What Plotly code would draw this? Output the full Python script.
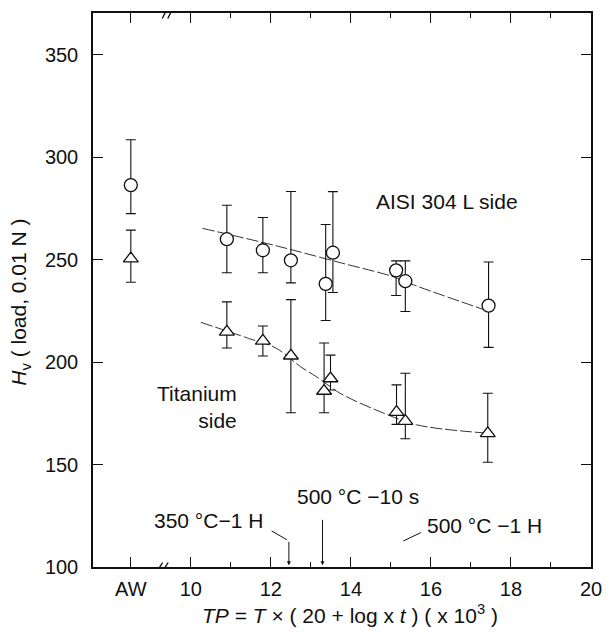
import numpy as np
import plotly.graph_objects as go

# Tempering parameter (x 10^3); AW (as-welded) is placed left of the axis break
AW_POS = 8.5

# AISI 304L side: mean hardness and error-bar limits
tp_304 = [AW_POS, 10.9, 11.8, 12.5, 13.37, 13.55, 15.13, 15.36, 17.44]
hv_304 = [286.4, 260.0, 254.6, 249.7, 238.2, 253.4, 244.8, 239.5, 227.6]
hi_304 = [308.5, 276.6, 270.6, 283.3, 267.2, 283.2, 249.4, 249.4, 248.9]
lo_304 = [272.5, 243.6, 243.6, 238.7, 220.3, 234.0, 232.5, 224.7, 207.2]

# Titanium side
tp_ti = [AW_POS, 10.9, 11.8, 12.5, 13.33, 13.49, 15.14, 15.36, 17.42]
hv_ti = [250.5, 214.8, 210.4, 203.1, 185.9, 192.0, 175.6, 171.2, 165.2]
hi_ti = [264.4, 229.4, 217.6, 230.5, 209.3, 203.4, 188.9, 194.6, 184.8]
lo_ti = [239.0, 206.9, 203.0, 175.3, 175.3, 186.4, 169.6, 162.6, 151.1]

# Hand-drawn trend curves
curve_304_x = [10.29, 12.13, 13.76, 15.02, 15.55, 17.34]
curve_304_y = [265.3, 256.8, 248.4, 241.9, 237.8, 225.5]
curve_ti_x = [10.25, 11.47, 12.13, 12.74, 13.19, 13.72, 14.82, 15.64, 17.30]
curve_ti_y = [219.4, 211.4, 206.8, 197.8, 192.2, 184.9, 175.1, 169.4, 165.5]

x_tickvals = [AW_POS, 10, 12, 14, 16, 18, 20]
x_ticktext = ["AW", "10", "12", "14", "16", "18", "20"]
x_minor = [11, 13, 15, 17, 19]
y_tickvals = [100, 150, 200, 250, 300, 350]

FONT = "Liberation Sans, Arial, Helvetica, sans-serif"
INK = "#111111"
TXT = 21

fig = go.Figure()

for cx, cy in [(curve_304_x, curve_304_y), (curve_ti_x, curve_ti_y)]:
    fig.add_trace(go.Scatter(
        x=cx, y=cy, mode="lines",
        line=dict(color="#333333", width=1, shape="spline", dash="12px,3px"),
        hoverinfo="skip", showlegend=False))


def hardness_trace(x, y, hi, lo, symbol, size):
    y = np.array(y)
    return go.Scatter(
        x=x, y=y, mode="markers", showlegend=False,
        marker=dict(symbol=symbol, size=size, color="white",
                    line=dict(color=INK, width=1.3)),
        error_y=dict(type="data", symmetric=False,
                     array=np.array(hi) - y, arrayminus=y - np.array(lo),
                     color=INK, thickness=1.1, width=5))


fig.add_trace(hardness_trace(tp_304, hv_304, hi_304, lo_304, "circle", 13))
fig.add_trace(hardness_trace(tp_ti, hv_ti, hi_ti, lo_ti, "triangle-up", 13))

# Axis break marks on the bottom and top frame lines
shapes = []
for anchor_x, anchor_y, half in [(9.30, 100, 4.5), (9.43, 370.4, 5.5)]:
    shapes.append(dict(type="rect", xref="x", yref="y", xsizemode="pixel", ysizemode="pixel",
                       xanchor=anchor_x, yanchor=anchor_y, x0=-4, x1=4, y0=-2, y1=2,
                       fillcolor="white", line=dict(width=0), layer="above"))
    for off in (-3, 2.5):
        shapes.append(dict(type="line", xref="x", yref="y", xsizemode="pixel", ysizemode="pixel",
                           xanchor=anchor_x, yanchor=anchor_y,
                           x0=off - 2.8, y0=-half, x1=off + 2.8, y1=half,
                           line=dict(color=INK, width=1.4), layer="above"))

# Leader lines for the heat-treatment labels
shapes.append(dict(type="line", xref="x", yref="y", x0=12.02, y0=117.6, x1=12.40, y1=113.3,
                   line=dict(color=INK, width=1)))
shapes.append(dict(type="line", xref="x", yref="y", x0=15.31, y0=112.7, x1=15.75, y1=116.8,
                   line=dict(color=INK, width=1)))

annotations = [
    dict(x=12.45, y=100.8, ax=0, ay=-25, xref="x", yref="y",
         text="", showarrow=True, arrowhead=2, arrowsize=0.8, arrowwidth=1, arrowcolor=INK),
    dict(x=13.29, y=100.8, ax=0, ay=-47, xref="x", yref="y",
         text="", showarrow=True, arrowhead=2, arrowsize=0.8, arrowwidth=1, arrowcolor=INK),
    dict(x=10.45, y=122.8, text="350 °C−1 H", showarrow=False, font=dict(size=TXT)),
    dict(x=14.17, y=134.5, text="500 °C −10 s", showarrow=False, font=dict(size=TXT)),
    dict(x=17.35, y=120.4, text="500 °C −1 H", showarrow=False, font=dict(size=TXT)),
    dict(x=16.39, y=278.3, text="AISI 304 L side", showarrow=False, font=dict(size=TXT)),
    dict(x=11.2, y=178.0, text="Titanium<br>side", showarrow=False, align="right",
         xanchor="right", font=dict(size=TXT)),
    dict(xref="paper", yref="paper", x=0.5, y=-0.085, xshift=8, xanchor="center",
         yanchor="middle",
         text="<i>TP</i> = <i>T</i> × ( 20 + log x <i>t</i> ) ( x 10<sup>3</sup> )",
         showarrow=False, font=dict(size=TXT)),
    dict(xref="paper", yref="y", x=0, y=229.0, xshift=-73, xanchor="center", yanchor="middle",
         textangle=-90, text="<i>H</i><sub>v</sub> ( load, 0.01 N )",
         showarrow=False, font=dict(size=TXT)),
]

fig.update_layout(
    width=613, height=632,
    margin=dict(l=93, r=11, t=13, b=65),
    paper_bgcolor="white", plot_bgcolor="white",
    font=dict(family=FONT, size=20, color=INK),
    shapes=shapes, annotations=annotations,
    xaxis=dict(range=[7.555, 20], showgrid=False, zeroline=False,
               showline=True, linecolor=INK, linewidth=1.5, mirror="ticks",
               ticks="inside", ticklen=10, tickwidth=1.2, tickcolor=INK,
               tickvals=x_tickvals, ticktext=x_ticktext, ticklabelstandoff=3,
               tickfont=dict(size=20),
               minor=dict(tickvals=x_minor, ticks="inside", ticklen=5,
                          tickwidth=1.2, tickcolor=INK)),
    yaxis=dict(range=[100, 370.4], showgrid=False, zeroline=False,
               showline=True, linecolor=INK, linewidth=1.5, mirror="ticks",
               ticks="inside", ticklen=10, tickwidth=1.2, tickcolor=INK,
               tickvals=y_tickvals, ticklabelstandoff=9, tickfont=dict(size=20)),
)

fig.write_html("out.html")
